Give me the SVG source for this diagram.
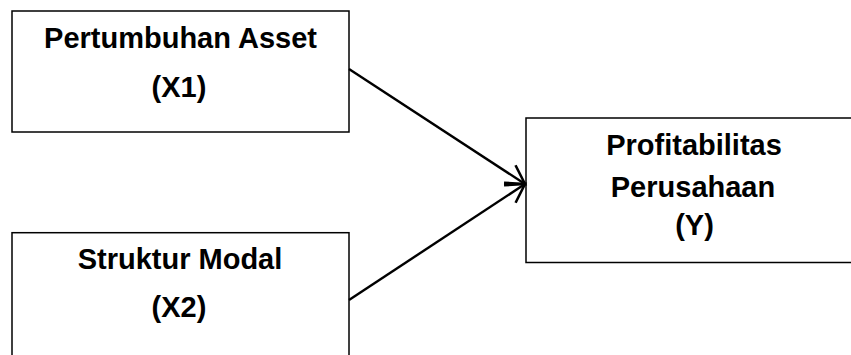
<svg xmlns="http://www.w3.org/2000/svg" width="851" height="355" viewBox="0 0 851 355">
  <style>
    .box { fill: #ffffff; stroke: #000000; stroke-width: 1.5; }
    .lbl { font-family: "Liberation Sans", Arial, sans-serif; font-weight: bold; font-size: 29px; fill: #000000; text-anchor: middle; }
    .conn { stroke: #000000; stroke-width: 2.4; fill: none; }
  </style>
  <defs>
    <marker id="arrow" markerUnits="userSpaceOnUse" markerWidth="30" markerHeight="30" viewBox="-22 -15 26 30" refX="0" refY="0" orient="auto">
      <path d="M-18.2,-10.5 L0,0 L-18.2,10.5" fill="none" stroke="#000000" stroke-width="2.6"/>
    </marker>
  </defs>
  <rect width="851" height="355" fill="#ffffff"/>
  <g id="node-x1">
    <rect class="box" x="12" y="11" width="337" height="121"/>
    <text class="lbl" x="180.5" y="48.3">Pertumbuhan Asset</text>
    <text class="lbl" x="179" y="96.7">(X1)</text>
  </g>
  <g id="node-x2">
    <rect class="box" x="12" y="232.7" width="337" height="140"/>
    <text class="lbl" x="180" y="269.3">Struktur Modal</text>
    <text class="lbl" x="179" y="316.7">(X2)</text>
  </g>
  <g id="node-y">
    <rect class="box" x="526" y="118" width="340" height="144.5"/>
    <text class="lbl" x="694" y="155">Profitabilitas</text>
    <text class="lbl" x="693" y="196.7">Perusahaan</text>
    <text class="lbl" x="694.5" y="235">(Y)</text>
  </g>
  <g id="connectors">
    <line class="conn" x1="349" y1="69" x2="525" y2="184" marker-end="url(#arrow)"/>
    <line class="conn" x1="349" y1="300" x2="525" y2="184" marker-end="url(#arrow)"/>
  </g>
</svg>
